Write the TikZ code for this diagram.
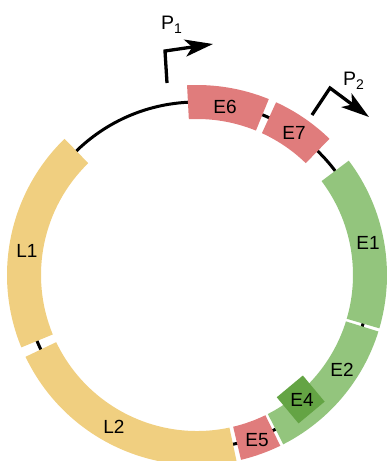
\documentclass[tikz,border=0pt]{standalone}
\usepackage{fontspec}
\setmainfont{Liberation Sans}
\usetikzlibrary{arrows.meta}
\definecolor{segred}{HTML}{E07C7C}
\definecolor{segyel}{HTML}{F0CF80}
\definecolor{seggrn}{HTML}{93C57D}
\definecolor{segdkg}{HTML}{64A444}
\newcommand\ringseg[5]{\fill[#1] (#2:#4) arc[start angle=#2,end angle=#3,radius=#4] -- (#3:#5) arc[start angle=#3,end angle=#2,radius=#5] -- cycle;}
\begin{document}
\begin{tikzpicture}[x=1pt,y=1pt,
  lbl/.style={font=\fontsize{19}{20}\selectfont, inner sep=0pt},
  plbl/.style={font=\fontsize{19.5}{20}\selectfont, inner sep=0pt, anchor=base west},
  prom/.style={line width=3.3pt, -{Stealth[length=28pt,width=17pt,inset=7pt]}}]
\useasboundingbox (0,0) rectangle (387,-461);
\clip (0,0) rectangle (387,-461);
\begin{scope}[shift={(197,-275)}]
  \draw[line width=3pt] (0,0) circle[radius=173];
  \ringseg{segred}{67.8}{93}{156}{190}
  \ringseg{segred}{45.8}{65.4}{156}{190}
  \ringseg{seggrn}{-16.3}{37}{156}{190}
  \ringseg{seggrn}{-63}{-17.3}{156}{190}
  \ringseg{segred}{-76.6}{-64}{156}{190}
  \ringseg{segyel}{-154.5}{-78}{156}{190}
  \ringseg{segyel}{134.2}{202.4}{156}{190}
  \begin{scope}[rotate=-50.2]
    \fill[segdkg] (145,-17) rectangle (179,17);
  \end{scope}
\end{scope}
% labels
\node[lbl] (e6) at (225,-107) {E6};
\node[lbl] (e7) at (294,-133) {E7};
\node[lbl] (e1) at (368,-243) {E1};
\node[lbl] (e2) at (342,-370) {E2};
\node[lbl] (e4) at (302,-400) {E4};
\node[lbl] (e5) at (257,-440) {E5};
\node[lbl] (l1) at (27,-251) {L1};
\node[lbl] (l2) at (114,-427) {L2};
% promoters
\coordinate (p1base) at (167,-83);
\coordinate (p1bend) at (165,-51);
\coordinate (p1tip) at (213,-44);
\draw[prom] (p1base) -- (p1bend) -- (p1tip);
\coordinate (p2base) at (312,-115);
\coordinate (p2bend) at (330,-88);
\coordinate (p2tip) at (369,-117);
\draw[prom] (p2base) -- (p2bend) -- (p2tip);
\node[plbl] (p1) at (161,-29) {P\raisebox{-4pt}{\fontsize{14}{15}\selectfont 1}};
\node[plbl] (p2) at (343,-85) {P\raisebox{-4pt}{\fontsize{14}{15}\selectfont 2}};
\end{tikzpicture}
\end{document}
